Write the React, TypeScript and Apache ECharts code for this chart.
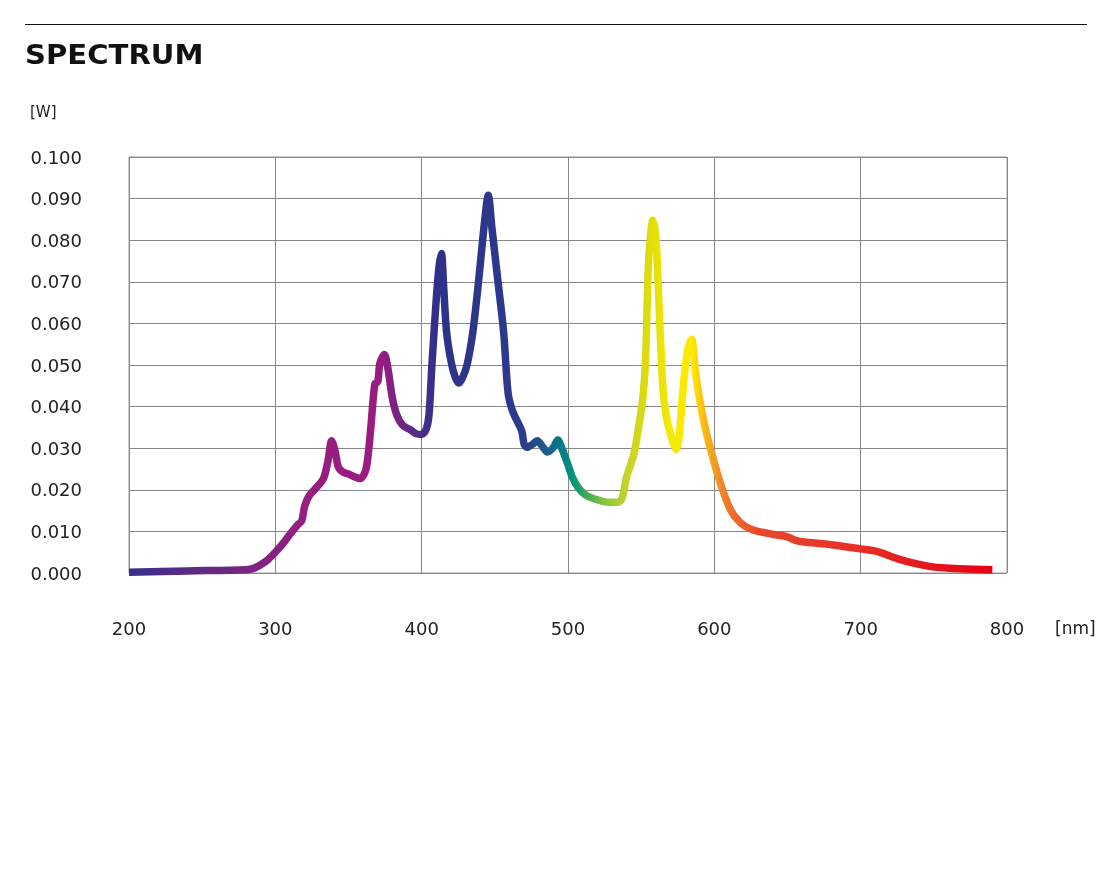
import React, { useEffect, useRef } from "react";
import * as echarts from "echarts";

// Wavelength [nm] and power [W]
const wavelengths: number[] = [
  200, 240, 280, 285, 290, 295, 300, 305, 310, 315, 318, 320, 323, 328, 333, 336, 338.5, 341, 343, 346,
  350, 355, 358, 362, 365, 368, 370, 371.5, 374.5, 377, 380, 383, 387, 392, 396, 400, 403, 405, 407, 410,
  412, 413.5, 415, 417, 420, 423, 425.5, 428, 431, 435, 439, 443, 445.5, 448, 452, 456, 459, 462, 466,
  468.5, 470, 472, 476, 479, 483, 486, 490, 493, 496, 500, 503, 507, 512, 520, 528, 534, 537, 540, 545,
  548, 551, 553, 554, 555, 556.5, 558, 560, 561.5, 563, 565, 567, 570, 574, 576, 578, 580, 582, 584.5,
  587, 590, 594, 598, 604, 611, 618, 626, 640, 650, 655, 660, 680, 700, 711, 727, 747, 768, 790,
];
const power: number[] = [
  0.0002, 0.0005, 0.0008, 0.0011, 0.002, 0.0032, 0.005, 0.007, 0.0093, 0.0115, 0.0125, 0.016, 0.0185,
  0.0205, 0.0228, 0.027, 0.0318, 0.029, 0.0255, 0.0243, 0.0238, 0.023, 0.0227, 0.025, 0.034, 0.0455,
  0.046, 0.0505, 0.0525, 0.049, 0.042, 0.038, 0.0355, 0.0345, 0.0335, 0.0333, 0.0345, 0.038, 0.05, 0.066,
  0.074, 0.0768, 0.069, 0.058, 0.051, 0.047, 0.0457, 0.047, 0.05, 0.058, 0.0705, 0.0845, 0.0908, 0.083,
  0.0705, 0.058, 0.0435, 0.039, 0.036, 0.034, 0.031, 0.0302, 0.031, 0.0318, 0.0302, 0.0291, 0.0302, 0.032,
  0.0298, 0.026, 0.023, 0.0205, 0.0188, 0.0176, 0.017, 0.017, 0.018, 0.023, 0.0285, 0.0345, 0.0416, 0.051,
  0.063, 0.0745, 0.0815, 0.0848, 0.081, 0.0705, 0.058, 0.044, 0.038, 0.0335, 0.0297, 0.033, 0.0416, 0.049,
  0.054, 0.0562, 0.0485, 0.0416, 0.0345, 0.029, 0.0217, 0.0152, 0.012, 0.0104, 0.0093, 0.0087, 0.0079,
  0.0075, 0.0068, 0.0058, 0.0052, 0.0032, 0.0016, 0.001, 0.0008,
];

// Spectrum colour stops (wavelength -> colour)
const stopWavelengths: number[] = [200, 280, 320, 370, 395, 410, 470, 485, 495, 503, 512, 525, 540, 555, 570, 585, 592, 600, 612, 630, 700, 790];
const stopColors: string[] = [
  "#3b2f8c", "#7a2583", "#951e80", "#9b1b7f", "#5c2a86", "#2e3189", "#2c3b8d", "#1d5a8b", "#067a87",
  "#00947a", "#3ea757", "#8bc340", "#c5d32a", "#dfdc0c", "#f6e900", "#ffe900", "#fcc012", "#f39b22",
  "#ee6e2d", "#e9482a", "#e62e25", "#e60014",
];

const xTicks = { min: 200, max: 800, interval: 100 };
const yTicks = { min: 0, max: 0.1, interval: 0.01 };

export default function App() {
  const ref = useRef<HTMLDivElement>(null);
  useEffect(() => {
    if (!ref.current) return;
    const chart = echarts.init(ref.current, null, { renderer: "svg" });
    const lo = wavelengths[0];
    const hi = wavelengths[wavelengths.length - 1];
    const gradient = new echarts.graphic.LinearGradient(
      0, 0, 1, 0,
      stopWavelengths.map((w, i) => ({ offset: (w - lo) / (hi - lo), color: stopColors[i] }))
    );
    const font = "DejaVu Sans";
    chart.setOption({
      animation: false,
      textStyle: { fontFamily: font },
      grid: { left: 129, right: 108, top: 157, bottom: 297, show: true, borderColor: "#9a9a9a", borderWidth: 1 },
      xAxis: {
        type: "value",
        min: xTicks.min,
        max: xTicks.max,
        interval: xTicks.interval,
        axisLine: { show: false },
        axisTick: { show: false },
        splitLine: { show: true, lineStyle: { color: "#888", width: 1 } },
        axisLabel: { color: "#222", fontSize: 18, margin: 46, fontFamily: font },
      },
      yAxis: {
        type: "value",
        min: yTicks.min,
        max: yTicks.max,
        interval: yTicks.interval,
        axisLine: { show: false },
        axisTick: { show: false },
        splitLine: { show: true, lineStyle: { color: "#888", width: 1 } },
        axisLabel: {
          color: "#222",
          fontSize: 18,
          margin: 47,
          fontFamily: font,
          formatter: (v: number) => v.toFixed(3),
        },
      },
      graphic: [
        { type: "line", shape: { x1: 25, y1: 24.5, x2: 1087, y2: 24.5 }, style: { stroke: "#111", lineWidth: 1 } },
        {
          type: "text",
          x: 25,
          y: 55,
          scaleX: 1.12,
          style: { text: "SPECTRUM", fontSize: 26, fontWeight: "bold", fontFamily: font, fill: "#111", verticalAlign: "middle" },
        },
        {
          type: "text",
          x: 30,
          y: 112,
          style: { text: "[W]", fontSize: 15, fontFamily: font, fill: "#222", verticalAlign: "middle" },
        },
        {
          type: "text",
          x: 1055,
          y: 628,
          style: { text: "[nm]", fontSize: 17, fontFamily: font, fill: "#222", verticalAlign: "middle" },
        },
      ],
      series: [
        {
          type: "line",
          data: wavelengths.map((w, i) => [w, power[i]]),
          showSymbol: false,
          smooth: 0.3,
          lineStyle: { width: 7.5, color: gradient, cap: "butt", join: "round" },
        },
      ],
    });
    return () => chart.dispose();
  }, []);
  return <div ref={ref} style={{ position: "fixed", left: 0, top: 0, width: 1115, height: 870 }} />;
}
